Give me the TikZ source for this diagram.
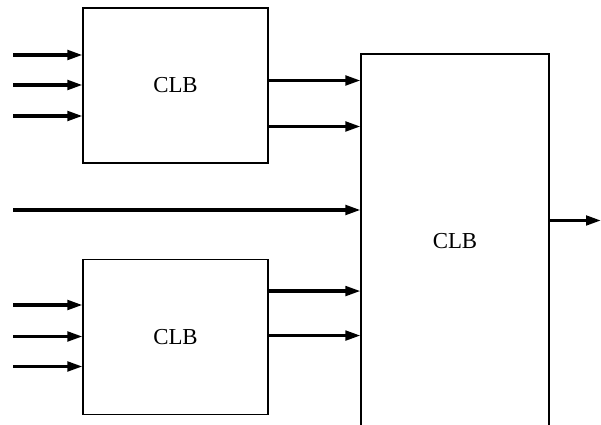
\documentclass[tikz,border=0pt]{standalone}
\usepackage{fontspec}
\setmainfont{Liberation Serif}
\usetikzlibrary{arrows.meta}
\usetikzlibrary{positioning}
\tikzset{
  bloco/.style={draw, line width=0.6pt, minimum width=#1, inner sep=0pt, font=\fontsize{13}{15}\selectfont},
  bloco/.default=3.7cm,
  seta/.style={-{Triangle[length=0.3cm, width=0.19cm]}, line width=1.8pt},
}

\begin{document}
\begin{tikzpicture}[node distance=1.91cm]
  \useasboundingbox (0,0) rectangle (12.02,8.5);
  \node[bloco, minimum height=3.1cm] (c1) at (3.51,6.79) {CLB};
  \node[bloco, minimum height=3.1cm, below=of c1] (c2) {CLB};
  \node[bloco=3.76cm, minimum height=7.48cm] (c3) at (9.1,3.68) {CLB};
  % entradas livres
  \foreach \y [count=\i] in {7.40,6.80,6.18,4.30,2.40,1.77,1.17}
    \coordinate (in\i) at (0.26,\y);
  \coordinate (saida) at (12.02,4.09);
  \foreach \i in {1,2,3} \draw[seta] (in\i) -- (in\i -| c1.west);
  \foreach \i in {5,6,7} \draw[seta] (in\i) -- (in\i -| c2.west);
  \draw[seta] (in4) -- (in4 -| c3.west);
  \draw[seta] ([yshift=0.10cm]c1.east) coordinate (o1) -- (o1 -| c3.west);
  \draw[seta] ([yshift=-0.82cm]c1.east) coordinate (o2) -- (o2 -| c3.west);
  \draw[seta] ([yshift=0.92cm]c2.east) coordinate (o3) -- (o3 -| c3.west);
  \draw[seta] ([yshift=0.03cm]c2.east) coordinate (o4) -- (o4 -| c3.west);
  \draw[seta] (saida -| c3.east) -- (saida);
\end{tikzpicture}
\end{document}
